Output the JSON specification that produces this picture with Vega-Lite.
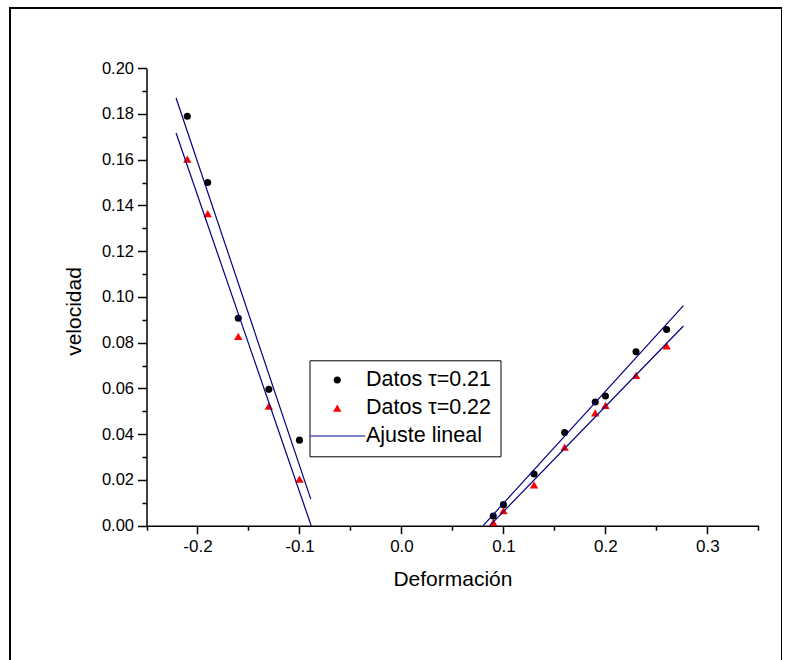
{
  "$schema": "https://vega.github.io/schema/vega-lite/v6.json",
  "width": 772,
  "height": 700,
  "autosize": {"type": "none"},
  "padding": {"left": 10, "top": 8, "right": 0, "bottom": 0},
  "background": "white",
  "config": {
    "font": "Liberation Sans",
    "view": {"stroke": "black", "strokeWidth": 2},
    "axis": {"grid": false, "domainColor": "black", "tickColor": "black", "labelColor": "black", "titleColor": "black", "domainWidth": 1.5, "tickWidth": 1.5, "titleFontWeight": "normal"}
  },
  "layer": [
    {
      "data": {"values": [
        {"def": -0.21, "vel": 0.179, "serie": "Datos τ=0.21"},
        {"def": -0.19, "vel": 0.150, "serie": "Datos τ=0.21"},
        {"def": -0.16, "vel": 0.0907, "serie": "Datos τ=0.21"},
        {"def": -0.13, "vel": 0.0596, "serie": "Datos τ=0.21"},
        {"def": -0.10, "vel": 0.0374, "serie": "Datos τ=0.21"},
        {"def": 0.09, "vel": 0.0042, "serie": "Datos τ=0.21"},
        {"def": 0.10, "vel": 0.0092, "serie": "Datos τ=0.21"},
        {"def": 0.13, "vel": 0.0226, "serie": "Datos τ=0.21"},
        {"def": 0.16, "vel": 0.0407, "serie": "Datos τ=0.21"},
        {"def": 0.19, "vel": 0.0541, "serie": "Datos τ=0.21"},
        {"def": 0.20, "vel": 0.0567, "serie": "Datos τ=0.21"},
        {"def": 0.23, "vel": 0.0760, "serie": "Datos τ=0.21"},
        {"def": 0.26, "vel": 0.0858, "serie": "Datos τ=0.21"},
        {"def": -0.21, "vel": 0.1603, "serie": "Datos τ=0.22"},
        {"def": -0.19, "vel": 0.1364, "serie": "Datos τ=0.22"},
        {"def": -0.16, "vel": 0.0828, "serie": "Datos τ=0.22"},
        {"def": -0.13, "vel": 0.0523, "serie": "Datos τ=0.22"},
        {"def": -0.10, "vel": 0.0204, "serie": "Datos τ=0.22"},
        {"def": 0.09, "vel": 0.0015, "serie": "Datos τ=0.22"},
        {"def": 0.10, "vel": 0.0066, "serie": "Datos τ=0.22"},
        {"def": 0.13, "vel": 0.0179, "serie": "Datos τ=0.22"},
        {"def": 0.16, "vel": 0.0344, "serie": "Datos τ=0.22"},
        {"def": 0.19, "vel": 0.0493, "serie": "Datos τ=0.22"},
        {"def": 0.20, "vel": 0.0526, "serie": "Datos τ=0.22"},
        {"def": 0.23, "vel": 0.0657, "serie": "Datos τ=0.22"},
        {"def": 0.26, "vel": 0.0786, "serie": "Datos τ=0.22"}
      ]},
      "mark": {"type": "point", "filled": true, "opacity": 1},
      "encoding": {
        "x": {"field": "def", "type": "quantitative",
          "scale": {"domain": [-0.25, 0.35], "range": [136.5, 748.4], "nice": false, "zero": false},
          "axis": {"orient": "bottom", "offset": -182.3, "values": [-0.2, -0.1, 0, 0.1, 0.2, 0.3],
            "labelExpr": "datum.value < -0.001 ? '-' + format(-datum.value, '.1f') : format(abs(datum.value), '.1f')",
            "tickSize": 8, "labelPadding": 5, "labelFontSize": 17, "labelOverlap": false,
            "title": "Deformación", "titleFontSize": 21, "titlePadding": 14}},
        "y": {"field": "vel", "type": "quantitative",
          "scale": {"domain": [0, 0.2], "range": [517.7, 60.2], "nice": false, "zero": false},
          "axis": {"orient": "left", "offset": -136.5, "values": [0, 0.02, 0.04, 0.06, 0.08, 0.1, 0.12, 0.14, 0.16, 0.18, 0.2],
            "format": ".2f", "tickSize": 9, "labelPadding": 4, "labelFontSize": 16.5, "labelOverlap": false,
            "title": "velocidad", "titleFontSize": 21, "titlePadding": 17, "titleY": 303}},
        "color": {"field": "serie", "type": "nominal",
          "scale": {"domain": ["Datos τ=0.21", "Datos τ=0.22", "Ajuste lineal"], "range": ["black", "red", "#000080"]},
          "legend": {"orient": "none", "legendX": 299.5, "legendY": 352.3, "title": null,
            "strokeColor": "black", "fillColor": "white", "padding": 9, "cornerRadius": 0,
            "labelFontSize": 21.5, "labelColor": "black", "rowPadding": 5, "symbolSize": 28,
            "symbolOffset": 8, "labelOffset": 18, "labelLimit": 300,
            "symbolStrokeColor": {"expr": "datum.value === 'Ajuste lineal' ? '#5a5abb' : 'transparent'"},
            "symbolStrokeWidth": 1.5}},
        "shape": {"field": "serie", "type": "nominal",
          "scale": {"domain": ["Datos τ=0.21", "Datos τ=0.22", "Ajuste lineal"], "range": ["circle", "triangle-up", "M-5.9,0H5.9"]},
          "legend": null},
        "size": {"field": "serie", "type": "nominal",
          "scale": {"domain": ["Datos τ=0.21", "Datos τ=0.22", "Ajuste lineal"], "range": [50, 90, 30]},
          "legend": null}
      }
    },
    {
      "data": {"values": [
        {"def": -0.221, "vel": 0.187, "ajuste": "a"},
        {"def": -0.0889, "vel": 0.0116, "ajuste": "a"},
        {"def": -0.221, "vel": 0.1717, "ajuste": "b"},
        {"def": -0.0885, "vel": 0.0, "ajuste": "b"},
        {"def": 0.0801, "vel": 0.0, "ajuste": "c"},
        {"def": 0.2765, "vel": 0.0962, "ajuste": "c"},
        {"def": 0.0866, "vel": 0.0, "ajuste": "d"},
        {"def": 0.2765, "vel": 0.0873, "ajuste": "d"}
      ]},
      "mark": {"type": "line", "color": "#000080", "strokeWidth": 1.2},
      "encoding": {
        "x": {"field": "def", "type": "quantitative",
          "axis": {"orient": "bottom", "offset": -182.3, "values": [-0.25, -0.15, -0.05, 0.05, 0.15, 0.25, 0.35],
            "labels": false, "domain": false, "tickSize": 4.5, "title": null}},
        "y": {"field": "vel", "type": "quantitative",
          "axis": {"orient": "left", "offset": -136.5, "values": [0.01, 0.03, 0.05, 0.07, 0.09, 0.11, 0.13, 0.15, 0.17, 0.19],
            "labels": false, "domain": false, "tickSize": 4.5, "title": null}},
        "detail": {"field": "ajuste", "type": "nominal"}
      }
    }
  ],
  "resolve": {"axis": {"x": "independent", "y": "independent"}}
}
